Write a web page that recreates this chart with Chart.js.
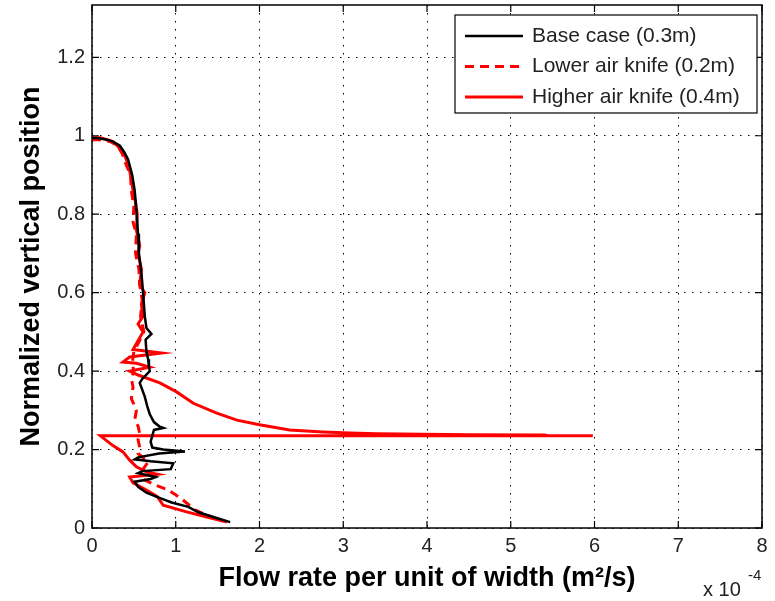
<!DOCTYPE html>
<html lang="en">
<head>
    <meta charset="UTF-8">
    <title>Flow rate profile</title>
    <script src="https://cdn.jsdelivr.net/npm/chart.js"></script>
    <style>
        body {
            margin: 0;
            background: #ffffff;
        }
        .wrap {
            position: relative;
            width: 775px;
            height: 601px;
        }
    </style>
</head>
<body>
    <div class="wrap">
        <canvas id="profile-chart" width="775" height="601"></canvas>
    </div>
    <script>
        // x values are in units of 1e-4 m^2/s
        const xTicks = [0, 1, 2, 3, 4, 5, 6, 7, 8];
        const yTicks = [0, 0.2, 0.4, 0.6, 0.8, 1, 1.2];

        const baseX = [0.00, 0.10, 0.18, 0.25, 0.33, 0.38, 0.43, 0.48, 0.51, 0.53, 0.55, 0.56, 0.59, 0.61, 0.63, 0.65, 0.71, 0.64, 0.65, 0.67, 0.68, 0.69, 0.60, 0.57, 0.63, 0.66, 0.69, 0.74, 0.81, 0.85, 0.74, 0.72, 0.70, 0.72, 0.85, 1.11, 0.80, 0.55, 0.51, 0.70, 0.97, 0.94, 0.60, 0.55, 0.76, 0.70, 0.51, 0.55, 0.65, 0.79, 0.95, 1.15, 1.27, 1.45, 1.65];
        const baseY = [0.995, 0.993, 0.990, 0.985, 0.975, 0.960, 0.940, 0.900, 0.860, 0.810, 0.750, 0.700, 0.650, 0.600, 0.540, 0.510, 0.495, 0.480, 0.450, 0.430, 0.410, 0.400, 0.380, 0.370, 0.335, 0.310, 0.290, 0.270, 0.258, 0.255, 0.250, 0.235, 0.220, 0.205, 0.200, 0.195, 0.190, 0.180, 0.175, 0.170, 0.165, 0.150, 0.145, 0.140, 0.130, 0.125, 0.118, 0.105, 0.090, 0.078, 0.065, 0.054, 0.040, 0.028, 0.015];

        const lowerX = [0.00, 0.12, 0.22, 0.30, 0.36, 0.40, 0.46, 0.47, 0.50, 0.49, 0.53, 0.52, 0.56, 0.57, 0.60, 0.58, 0.62, 0.55, 0.50, 0.48, 0.50, 0.47, 0.49, 0.47, 0.53, 0.51, 0.55, 0.57, 0.55, 0.57, 0.55, 0.67, 0.61, 0.75, 0.63, 0.75, 0.91, 1.06, 1.23, 1.40, 1.55];
        const lowerY = [0.990, 0.990, 0.985, 0.975, 0.955, 0.930, 0.900, 0.860, 0.820, 0.780, 0.750, 0.700, 0.660, 0.620, 0.580, 0.540, 0.500, 0.470, 0.450, 0.420, 0.400, 0.380, 0.360, 0.330, 0.300, 0.275, 0.260, 0.240, 0.225, 0.205, 0.190, 0.168, 0.150, 0.135, 0.122, 0.110, 0.097, 0.076, 0.046, 0.030, 0.018];

        const higherX = [0.00, 0.10, 0.18, 0.25, 0.30, 0.36, 0.40, 0.44, 0.47, 0.49, 0.52, 0.54, 0.53, 0.57, 0.55, 0.59, 0.57, 0.63, 0.59, 0.61, 0.55, 0.61, 0.49, 0.83, 0.45, 0.37, 0.53, 0.69, 0.45, 0.55, 0.81, 1.01, 1.21, 1.49, 1.73, 2.00, 2.36, 2.76, 3.08, 3.40, 4.50, 5.40, 5.45, 5.98, 0.10, 0.25, 0.37, 0.45, 0.53, 0.65, 0.78, 0.45, 0.49, 0.65, 0.78, 0.85, 1.13, 1.37, 1.61];
        const higherY = [0.995, 0.995, 0.990, 0.985, 0.975, 0.960, 0.945, 0.920, 0.890, 0.860, 0.830, 0.800, 0.760, 0.720, 0.700, 0.660, 0.620, 0.600, 0.570, 0.540, 0.520, 0.500, 0.455, 0.446, 0.436, 0.423, 0.420, 0.410, 0.400, 0.390, 0.370, 0.347, 0.318, 0.293, 0.275, 0.263, 0.250, 0.245, 0.242, 0.240, 0.238, 0.237, 0.235, 0.235, 0.235, 0.210, 0.194, 0.173, 0.156, 0.143, 0.137, 0.130, 0.115, 0.097, 0.080, 0.058, 0.041, 0.028, 0.015];

        const seriesLabels = ['Base case (0.3m)', 'Lower air knife (0.2m)', 'Higher air knife (0.4m)'];

        const toPoints = (xs, ys) => xs.map((x, i) => ({ x: x, y: ys[i] }));
        const fontFamily = "'Liberation Sans', Arial, Helvetica, sans-serif";

        // box, inward ticks on all sides, legend and the exponent note
        const framePlugin = {
            id: 'frame',
            afterDraw(chart) {
                const ctx = chart.ctx;
                const ca = chart.chartArea;
                const xs = chart.scales.x;
                const ys = chart.scales.y;
                const tick = 7;

                ctx.save();
                ctx.strokeStyle = '#000';
                ctx.lineWidth = 1.5;
                ctx.setLineDash([]);
                ctx.strokeRect(ca.left, ca.top, ca.right - ca.left, ca.bottom - ca.top);

                ctx.lineWidth = 1.2;
                ctx.beginPath();
                xTicks.forEach(v => {
                    const px = xs.getPixelForValue(v);
                    ctx.moveTo(px, ca.bottom); ctx.lineTo(px, ca.bottom - tick);
                    ctx.moveTo(px, ca.top); ctx.lineTo(px, ca.top + tick);
                });
                yTicks.forEach(v => {
                    const py = ys.getPixelForValue(v);
                    ctx.moveTo(ca.left, py); ctx.lineTo(ca.left + tick, py);
                    ctx.moveTo(ca.right, py); ctx.lineTo(ca.right - tick, py);
                });
                ctx.stroke();

                // legend
                const lw = 302, lh = 98;
                const lx = ca.right - lw - 5;
                const ly = ca.top + 10;
                ctx.fillStyle = '#fff';
                ctx.fillRect(lx, ly, lw, lh);
                ctx.lineWidth = 1.2;
                ctx.strokeStyle = '#000';
                ctx.strokeRect(lx, ly, lw, lh);

                ctx.font = '21px ' + fontFamily;
                ctx.textBaseline = 'middle';
                ctx.textAlign = 'left';
                chart.data.datasets.forEach((ds, i) => {
                    const cy = ly + 21 + i * 30.5;
                    ctx.strokeStyle = ds.borderColor;
                    ctx.lineWidth = ds.borderWidth;
                    ctx.setLineDash(ds.borderDash || []);
                    ctx.beginPath();
                    ctx.moveTo(lx + 10, cy);
                    ctx.lineTo(lx + 68, cy);
                    ctx.stroke();
                    ctx.setLineDash([]);
                    ctx.fillStyle = '#222';
                    ctx.fillText(ds.label, lx + 77, cy);
                });

                // x 10^-4
                ctx.fillStyle = '#222';
                ctx.textBaseline = 'alphabetic';
                ctx.font = '20px ' + fontFamily;
                ctx.fillText('x 10', 703, 596);
                ctx.font = '15px ' + fontFamily;
                ctx.fillText('-4', 748, 580);
                ctx.restore();
            }
        };

        const ctx = document.getElementById('profile-chart').getContext('2d');
        new Chart(ctx, {
            type: 'scatter',
            data: {
                datasets: [
                    {
                        label: seriesLabels[0],
                        data: toPoints(baseX, baseY),
                        borderColor: '#000000',
                        borderWidth: 2.5,
                        showLine: true,
                        pointRadius: 0,
                        tension: 0
                    },
                    {
                        label: seriesLabels[1],
                        data: toPoints(lowerX, lowerY),
                        borderColor: '#ff0000',
                        borderWidth: 3,
                        borderDash: [9, 6],
                        showLine: true,
                        pointRadius: 0,
                        tension: 0
                    },
                    {
                        label: seriesLabels[2],
                        data: toPoints(higherX, higherY),
                        borderColor: '#ff0000',
                        borderWidth: 3,
                        showLine: true,
                        pointRadius: 0,
                        tension: 0
                    }
                ]
            },
            options: {
                responsive: false,
                animation: false,
                layout: { padding: { top: 5, right: 13, left: 0, bottom: 0 } },
                plugins: {
                    legend: { display: false },
                    tooltip: { enabled: false }
                },
                scales: {
                    x: {
                        type: 'linear',
                        min: 0,
                        max: 8,
                        afterBuildTicks: s => { s.ticks = xTicks.map(v => ({ value: v })); },
                        afterFit: s => { s.height = 73; s.paddingLeft = 0; s.paddingRight = 0; },
                        ticks: {
                            padding: 6,
                            color: '#222',
                            font: { size: 20, family: fontFamily }
                        },
                        grid: { color: '#000', lineWidth: 1, drawTicks: false },
                        border: { display: false, dash: [1.5, 6.5] },
                        title: {
                            display: true,
                            text: 'Flow rate per unit of width (m²/s)',
                            color: '#000',
                            font: { size: 27, weight: 'bold', family: fontFamily },
                            padding: { top: 0, bottom: 6 }
                        }
                    },
                    y: {
                        type: 'linear',
                        min: 0,
                        max: 1.3333,
                        afterBuildTicks: s => { s.ticks = yTicks.map(v => ({ value: v })); },
                        afterFit: s => { s.width = 92; s.paddingTop = 0; s.paddingBottom = 0; },
                        ticks: {
                            padding: 7,
                            color: '#222',
                            font: { size: 20, family: fontFamily },
                            callback: v => String(Math.round(v * 10) / 10)
                        },
                        grid: { color: '#000', lineWidth: 1, drawTicks: false },
                        border: { display: false, dash: [1.5, 6.5] },
                        title: {
                            display: true,
                            text: 'Normalized vertical position',
                            color: '#000',
                            font: { size: 27, weight: 'bold', family: fontFamily },
                            padding: { top: 15, bottom: 0 }
                        }
                    }
                }
            },
            plugins: [framePlugin]
        });
    </script>
</body>
</html>
